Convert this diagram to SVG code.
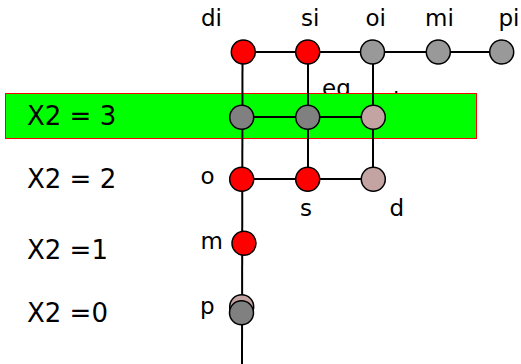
<svg xmlns="http://www.w3.org/2000/svg" width="521" height="364" viewBox="0 0 521 364">
<style>
text{font-family:"DejaVu Sans",sans-serif;fill:#000}
.lbl{font-size:23px}
.row{font-size:26px}
.n circle{stroke:#000;stroke-width:1.5}
.red{fill:#ff0000}
.g1{fill:#999999}
.g2{fill:#808080}
.pk{fill:#c4a3a3}
#edges line{stroke:#000;stroke-width:2}
</style>
<rect width="521" height="364" fill="#fff"/>
<text class="lbl" x="322" y="96">eg</text>
<text class="lbl" x="393" y="109">i</text>
<rect id="band" x="5.5" y="93.5" width="471" height="45" fill="#00ff00" stroke="#ff0000" stroke-width="1"/>
<g id="edges">
<line x1="243" y1="52" x2="501" y2="52"/>
<line x1="242" y1="117" x2="373" y2="117"/>
<line x1="242" y1="179" x2="373" y2="179"/>
<line x1="242.5" y1="52" x2="242" y2="364"/>
<line x1="308" y1="52" x2="308" y2="179"/>
<line x1="373" y1="52" x2="373" y2="179"/>
</g>
<g id="row-labels">
<text class="row" x="27" y="124.5">X2 = 3</text>
<text class="row" x="27" y="187.5">X2 = 2</text>
<text class="row" x="27" y="259">X2 =1</text>
<text class="row" x="27" y="321.5">X2 =0</text>
</g>
<g id="di" class="n"><circle class="red" cx="243.3" cy="52" r="12"/><text class="lbl" x="201" y="26">di</text></g>
<g id="si" class="n"><circle class="red" cx="307.7" cy="52" r="12"/><text class="lbl" x="301" y="26">si</text></g>
<g id="oi" class="n"><circle class="g1" cx="372.5" cy="52" r="12"/><text class="lbl" x="365.5" y="26">oi</text></g>
<g id="mi" class="n"><circle class="g1" cx="438.3" cy="52" r="12"/><text class="lbl" x="425" y="26">mi</text></g>
<g id="pi" class="n"><circle class="g1" cx="501.7" cy="52" r="12"/><text class="lbl" x="498.5" y="26">pi</text></g>
<g id="r2a" class="n"><circle class="g2" cx="241.7" cy="117.3" r="12"/></g>
<g id="r2b" class="n"><circle class="g2" cx="307.7" cy="117.3" r="12"/></g>
<g id="r2c" class="n"><circle class="pk" cx="373.3" cy="117.3" r="12"/></g>
<g id="o" class="n"><circle class="red" cx="241.7" cy="179.3" r="12"/><text class="lbl" x="200.5" y="184">o</text></g>
<g id="s" class="n"><circle class="red" cx="307.7" cy="179.3" r="12"/><text class="lbl" x="300" y="215.5">s</text></g>
<g id="d" class="n"><circle class="pk" cx="373.3" cy="179.3" r="12"/><text class="lbl" x="389.5" y="215.5">d</text></g>
<g id="m" class="n"><circle class="red" cx="244" cy="243.3" r="12"/><text class="lbl" x="200.5" y="249">m</text></g>
<g id="p" class="n"><circle class="pk" cx="241.7" cy="306.8" r="12"/><circle class="g2" cx="241.5" cy="312.8" r="12"/><text class="lbl" x="200" y="314">p</text></g>
</svg>
